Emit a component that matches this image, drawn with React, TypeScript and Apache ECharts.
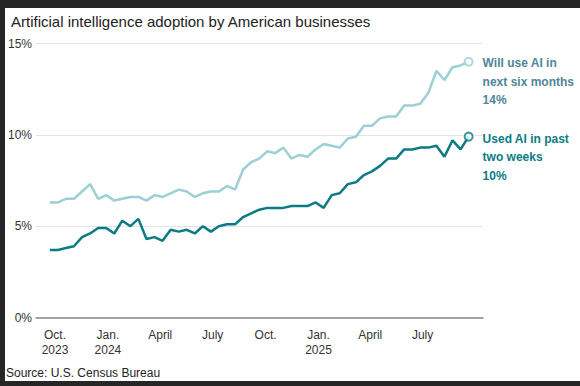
import React, { useEffect, useRef } from "react";
import * as echarts from "echarts";

// Biweekly Census BTOS survey periods, starting late September 2023
const firstPeriod = "2023-09-22";
const periodStepDays = 14;

// Share of firms that will use AI in the next six months (%)
const willUseAI = [
  6.3, 6.3, 6.5, 6.5, 6.9, 7.3, 6.5, 6.7, 6.4, 6.5, 6.6, 6.6, 6.4, 6.7, 6.6, 6.8,
  7.0, 6.9, 6.6, 6.8, 6.9, 6.9, 7.2, 7.0, 8.1, 8.5, 8.7, 9.1, 9.0, 9.3, 8.7, 8.9,
  8.8, 9.2, 9.5, 9.4, 9.3, 9.8, 9.9, 10.5, 10.5, 10.9, 11.0, 11.0, 11.6, 11.6,
  11.7, 12.3, 13.5, 13.0, 13.7, 13.8, 14.0,
];

// Share of firms that used AI in the past two weeks (%)
const usedAI = [
  3.7, 3.7, 3.8, 3.9, 4.4, 4.6, 4.9, 4.9, 4.6, 5.3, 5.0, 5.4, 4.3, 4.4, 4.2, 4.8,
  4.7, 4.8, 4.6, 5.0, 4.7, 5.0, 5.1, 5.1, 5.5, 5.7, 5.9, 6.0, 6.0, 6.0, 6.1, 6.1,
  6.1, 6.3, 6.0, 6.7, 6.8, 7.3, 7.4, 7.8, 8.0, 8.3, 8.7, 8.7, 9.2, 9.2, 9.3, 9.3,
  9.4, 8.8, 9.7, 9.2, 9.9,
];

const xTickDates = [
  "2023-10-01", "2024-01-01", "2024-04-01", "2024-07-01",
  "2024-10-01", "2025-01-01", "2025-04-01", "2025-07-01",
];
const xTickLabels = [
  "Oct.\n2023", "Jan.\n2024", "April", "July", "Oct.", "Jan.\n2025", "April", "July",
];
const yTicks = [0, 5, 10, 15];

const seriesNames = ["Will use AI in\nnext six months", "Used AI in past\ntwo weeks"];

const DAY = 86400000;
const origin = Date.parse("2023-10-01T00:00:00Z");
const dayOf = (d: string) => Math.round((Date.parse(d + "T00:00:00Z") - origin) / DAY);
const startDay = dayOf(firstPeriod);
const periodDays = willUseAI.map((_, i) => startDay + i * periodStepDays);
const tickDays = xTickDates.map(dayOf);

const LIGHT = "#9ccfd6";
const DARK = "#0b7b83";
const LIGHT_TEXT = "#4f8698";
const DARK_TEXT = "#0d7b83";
const FONT = "'Liberation Sans', Arial, sans-serif";

export default function App() {
  const ref = useRef<HTMLDivElement>(null);
  useEffect(() => {
    if (!ref.current) return;
    const chart = echarts.init(ref.current, null, { renderer: "svg" });
    const lastIdx = periodDays.length - 1;
    const mk = (vals: number[]) => vals.map((v, i) => [periodDays[i], v]);
    chart.setOption({
      animation: false,
      textStyle: { fontFamily: FONT },
      title: {
        text: "Artificial intelligence adoption by American businesses",
        left: 1,
        top: 1,
        textStyle: { fontFamily: FONT, fontSize: 15, fontWeight: "normal", color: "#222" },
      },
      graphic: [
        {
          type: "text",
          left: 1,
          top: 359,
          style: {
            text: "Source: U.S. Census Bureau",
            font: "12px 'Liberation Sans Narrow', 'Liberation Sans', sans-serif",
            fill: "#222",
          },
        },
      ],
      grid: { left: 28, right: 97, top: 35.5, bottom: 63.5 },
      xAxis: {
        type: "value",
        min: -33,
        max: 744,
        axisLine: { show: true, lineStyle: { color: "#888", width: 1.5 } },
        axisTick: { show: false },
        splitLine: { show: false },
        axisLabel: {
          customValues: tickDays,
          formatter: (v: number) => xTickLabels[tickDays.indexOf(v)] ?? "",
          fontFamily: FONT,
          fontSize: 12,
          color: "#333",
          lineHeight: 15,
          margin: 10,
        },
      },
      yAxis: {
        type: "value",
        min: 0,
        max: 15,
        interval: 5,
        axisLine: { show: false },
        axisTick: { show: false },
        splitLine: { lineStyle: { color: "#e4e4e4", width: 1 } },
        axisLabel: {
          formatter: (v: number) => (yTicks.includes(v) ? v + "%" : ""),
          fontFamily: FONT,
          fontSize: 12,
          color: "#333",
          margin: 4,
        },
      },
      series: [
        {
          type: "line",
          name: seriesNames[0],
          data: mk(willUseAI),
          symbol: "none",
          lineStyle: { color: LIGHT, width: 2.5 },
          z: 3,
          endLabel: {
            show: true,
            formatter: () => `${seriesNames[0]}\n${Math.round(willUseAI[lastIdx])}%`,
            color: LIGHT_TEXT,
            fontFamily: FONT,
            fontWeight: "bold",
            fontSize: 12,
            lineHeight: 18.5,
            distance: 14,
            align: "left",
            verticalAlign: "top",
            offset: [0, -8],
          },
        },
        {
          type: "line",
          name: seriesNames[1],
          data: mk(usedAI),
          symbol: "none",
          lineStyle: { color: DARK, width: 2.5 },
          z: 4,
          endLabel: {
            show: true,
            formatter: () => `${seriesNames[1]}\n${Math.round(usedAI[lastIdx])}%`,
            color: DARK_TEXT,
            fontFamily: FONT,
            fontWeight: "bold",
            fontSize: 12,
            lineHeight: 18.5,
            distance: 14,
            align: "left",
            verticalAlign: "top",
            offset: [0, -7],
          },
        },
        {
          type: "scatter",
          data: [[periodDays[lastIdx], willUseAI[lastIdx]]],
          symbolSize: 8,
          itemStyle: { color: "#fff", borderColor: LIGHT, borderWidth: 2 },
          z: 5,
        },
        {
          type: "scatter",
          data: [[periodDays[lastIdx], usedAI[lastIdx]]],
          symbolSize: 8,
          itemStyle: { color: "#fff", borderColor: DARK, borderWidth: 2 },
          z: 6,
        },
      ],
    });
    return () => chart.dispose();
  }, []);

  return (
    <div style={{ position: "fixed", left: 0, top: 0, width: 580, height: 386, background: "#262626" }}>
      <div
        ref={ref}
        style={{ position: "absolute", left: 5, top: 8, width: 575, height: 373, background: "#fff" }}
      />
    </div>
  );
}
